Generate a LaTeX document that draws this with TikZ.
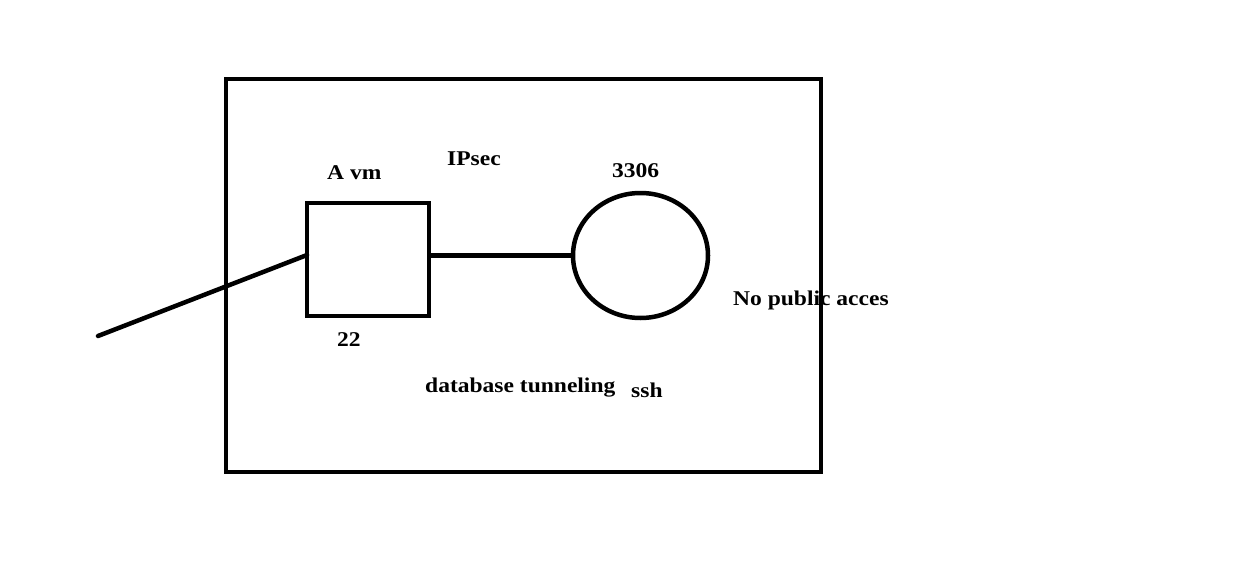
\documentclass[tikz,border=0pt]{standalone}
\usepackage{fontspec}
\setmainfont{Liberation Serif}[FakeStretch=1.12]
\usetikzlibrary{shapes.geometric}
\begin{document}
\begin{tikzpicture}[x=1pt,y=-1pt,
  thick line/.style={line width=4.5pt},
  lbl/.style={anchor=base west,inner sep=0pt,font=\fontsize{21}{25}\selectfont\bfseries}]
\useasboundingbox (0,0) rectangle (1235,570);
\node[draw,thick line,rectangle,minimum width=595pt,minimum height=393pt,inner sep=0pt,outer sep=0pt] (outer) at (523.5,275.5) {};
\node[draw,thick line,rectangle,minimum width=122pt,minimum height=113pt,inner sep=0pt,outer sep=0pt] (vm) at (368,259.5) {};
\node[draw,thick line,ellipse,minimum width=135pt,minimum height=125pt,inner sep=0pt,outer sep=0pt] (db) at (640.5,255.5) {};
\coordinate (ext) at (98,336);
\draw[thick line] (vm.east |- db.west) -- (db.west);
\draw[thick line,line cap=round] (ext) -- ([yshift=4.5pt]vm.west);
\node[lbl] (avm) at (327,179) {A vm};
\node[lbl] (ipsec) at (447,165) {IPsec};
\node[lbl] (port) at (612,177) {3306};
\node[lbl] (nopub) at (733,305) {No public acces};
\node[lbl] (p22) at (337,346) {22};
\node[lbl] (tun) at (425,392) {database tunneling};
\node[lbl] (ssh) at (631,397) {ssh};
\end{tikzpicture}
\end{document}
